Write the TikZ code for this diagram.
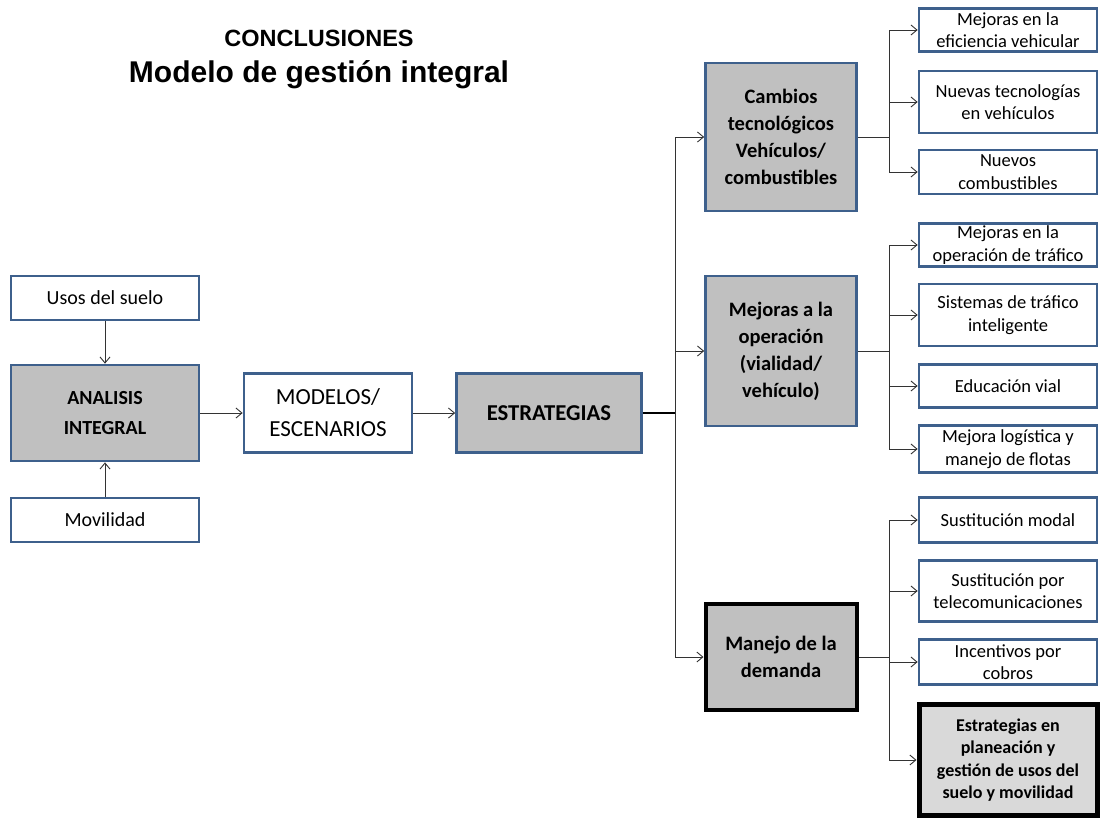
\documentclass[tikz,border=0pt]{standalone}
\usepackage{fontspec}
\setmainfont{Carlito}
\newfontfamily\titlefont{Liberation Sans}
\usetikzlibrary{arrows.meta, positioning}
\definecolor{boxblue}{RGB}{62,96,140}
\definecolor{boxgray}{RGB}{192,192,192}
\definecolor{lightgray}{RGB}{217,217,217}
\tikzset{
  box/.style={draw=boxblue, line width=2.7pt, fill=white, align=center, inner sep=1pt},
  leftbox/.style={box, minimum width=188pt, minimum height=44pt, font=\fontsize{20}{26}\selectfont},
  graybox/.style={box, fill=boxgray},
  midbox/.style={graybox, minimum width=151pt, font=\bfseries\fontsize{20.5}{27}\selectfont},
  leaf/.style={box, minimum width=178pt, font=\fontsize{18.5}{22.5}\selectfont},
  arr/.style={draw=black!80, line width=0.9pt, -{Straight Barb[length=6pt,width=10pt]}},
  wire/.style={draw=black!80, line width=0.9pt},
}
\begin{document}
\begin{tikzpicture}[x=1pt,y=-1pt]
\useasboundingbox (0,0) rectangle (1103,819);
%draw title
\node (titulo1) at (319,38) {\titlefont\bfseries\fontsize{23.5}{26}\selectfont CONCLUSIONES};
\node (titulo2) at (319,75) {\titlefont\bfseries\fontsize{30}{34}\selectfont Modelo de gesti\'on integral};
%draw left boxes
\node[leftbox] (usos) at (105,298) {Usos del suelo};
\node[leftbox, graybox, minimum height=96pt, font=\bfseries\fontsize{20}{30}\selectfont] (analisis) at (105,413) {ANALISIS\\INTEGRAL};
\node[leftbox] (movilidad) at (105,520) {Movilidad};
\node[box, minimum width=168pt, minimum height=79pt, font=\fontsize{23}{32}\selectfont] (modelos) at (328,413) {MODELOS/\\ESCENARIOS};
\node[graybox, minimum width=185pt, minimum height=79pt, font=\bfseries\fontsize{22.7}{30}\selectfont] (estrategias) at (549,413) {ESTRATEGIAS};
%draw middle boxes
\node[midbox, minimum height=148pt] (cambios) at (781,137) {Cambios\\tecnol\'ogicos\\Veh\'iculos/\\combustibles};
\node[midbox, minimum height=150pt] (operacion) at (781,351) {Mejoras a la\\operaci\'on\\(vialidad/\\veh\'iculo)};
\node[midbox, draw=black, line width=4pt, minimum height=106pt] (demanda) at (781,657) {Manejo de la\\demanda};
%draw right boxes
\node[leaf, minimum height=43pt] (c1) at (1008,30) {Mejoras en la\\eficiencia vehicular};
\node[leaf, minimum height=62pt] (c2) at (1008,102) {Nuevas tecnolog\'ias\\en veh\'iculos};
\node[leaf, minimum height=44pt] (c3) at (1008,172) {Nuevos\\combustibles};
\node[leaf, minimum height=43pt] (o1) at (1008,245) {Mejoras en la\\operaci\'on de tr\'afico};
\node[leaf, minimum height=62pt] (o2) at (1008,315) {Sistemas de tr\'afico\\inteligente};
\node[leaf, minimum height=43pt] (o3) at (1008,386) {Educaci\'on vial};
\node[leaf, minimum height=47pt] (o4) at (1008,449) {Mejora log\'istica y\\manejo de flotas};
\node[leaf, minimum height=45pt] (d1) at (1008,520) {Sustituci\'on modal};
\node[leaf, minimum height=61pt] (d2) at (1008,591) {Sustituci\'on por\\telecomunicaciones};
\node[leaf, minimum height=45pt] (d3) at (1008,662) {Incentivos por\\cobros};
\node[leaf, draw=black, fill=lightgray, line width=5pt, minimum height=111pt, font=\bfseries\fontsize{18}{22.5}\selectfont] (d4) at (1008,760) {Estrategias en\\planeaci\'on y\\gesti\'on de usos del\\suelo y movilidad};
%draw arrows
\draw[arr] (usos) -- (analisis);
\draw[arr] (movilidad) -- (analisis);
\draw[arr] (analisis) -- (modelos);
\draw[arr] (modelos) -- (estrategias);
\coordinate (tronco) at (675,413);
\draw[wire, line width=1.6pt, draw=black] (estrategias) -- (tronco);
\foreach \m in {cambios, operacion, demanda}{
\draw[arr] (tronco) |- (\m); }
%draw branches
\coordinate (bc) at (889,137);
\coordinate (bo) at (889,351);
\coordinate (bd) at (889,657);
\draw[wire] (cambios) -- (bc);
\draw[wire] (operacion) -- (bo);
\draw[wire] (demanda) -- (bd);
\foreach \c in {c1, c2, c3}{
\draw[arr] (bc) |- (\c); }
\foreach \c in {o1, o2, o3, o4}{
\draw[arr] (bo) |- (\c); }
\foreach \c in {d1, d2, d3, d4}{
\draw[arr] (bd) |- (\c); }
\end{tikzpicture}
\end{document}
